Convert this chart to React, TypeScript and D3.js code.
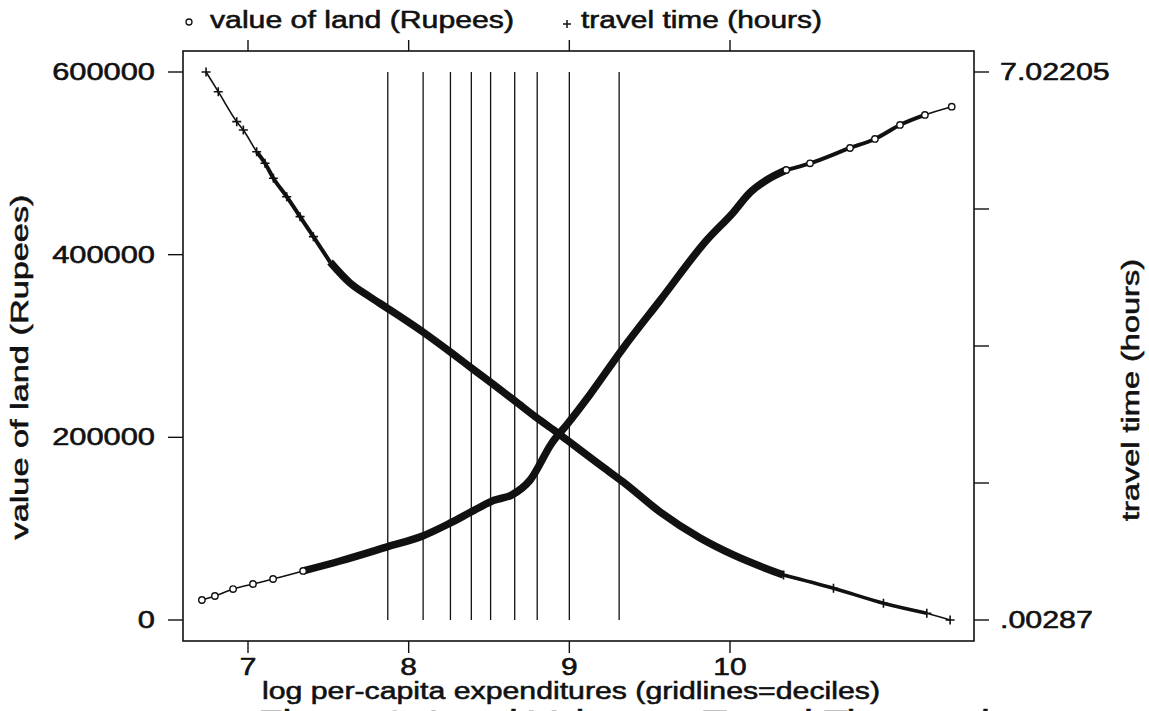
import React, { useEffect, useRef } from "react";
import * as d3 from "d3";

// ticks and labels
const xTicks = [7, 8, 9, 10];
const landTicks = [0, 200000, 400000, 600000];
const travelTicks = [0.00287, 1.757665, 3.51246, 5.267255, 7.02205];
const travelTickLabels = [".00287", "", "", "", "7.02205"];
const deciles = [7.87, 8.09, 8.26, 8.39, 8.51, 8.66, 8.8, 9.0, 9.31];

// value of land (Rupees)
const landX = [
  6.713, 6.794, 6.907, 7.031, 7.156, 7.343, 7.573, 7.87, 8.087, 8.257, 8.407,
  8.531, 8.643, 8.755, 8.892, 8.985, 9.129, 9.328, 9.565, 9.856, 10.019,
  10.125, 10.231, 10.35, 10.498, 10.747, 10.902, 11.058, 11.213, 11.38,
];
const landY = [
  21900, 26300, 33900, 39400, 44900, 53700, 64600, 80300, 92000, 106000,
  120000, 131000, 137000, 153000, 194000, 214000, 247000, 296000, 350000,
  416000, 446000, 468000, 482000, 492700, 500000, 516800, 526700, 542000,
  553000, 562000,
];

// travel time (hours)
const travelX = [
  6.739, 6.815, 6.93, 6.971, 7.054, 7.106, 7.158, 7.241, 7.324, 7.407, 7.511,
  7.635, 7.76, 7.866, 8.089, 8.276, 8.407, 8.532, 8.662, 8.799, 8.911, 8.986,
  9.192, 9.335, 9.565, 9.814, 10.021, 10.333, 10.644, 10.955, 11.225, 11.37,
];
const travelT = [
  7.022, 6.77, 6.386, 6.279, 6.001, 5.853, 5.661, 5.425, 5.169, 4.913, 4.588,
  4.319, 4.14, 3.999, 3.692, 3.41, 3.205, 3.013, 2.808, 2.59, 2.424, 2.308,
  1.988, 1.77, 1.386, 1.053, 0.836, 0.579, 0.409, 0.217, 0.089, 0.00287,
];

const W = 1149;
const H = 711;
const frame = { left: 183, right: 974, top: 51, bottom: 641 };
const font = "'Liberation Sans', Arial, Helvetica, sans-serif";

export default function App() {
  const ref = useRef<SVGSVGElement>(null);

  const x = d3.scaleLinear().domain([7, 10]).range([248, 730]);
  const yLand = d3.scaleLinear().domain([0, 600000]).range([620, 72]);
  const yTravel = d3.scaleLinear().domain([0.00287, 7.02205]).range([620, 72]);

  const land = landX.map((v, i) => ({ x: v, y: landY[i] }));
  const travel = travelX.map((v, i) => ({ x: v, y: travelT[i] }));

  const landLine = d3
    .line<{ x: number; y: number }>()
    .x((d) => x(d.x))
    .y((d) => yLand(d.y))
    .curve(d3.curveMonotoneX);
  const travelLine = d3
    .line<{ x: number; y: number }>()
    .x((d) => x(d.x))
    .y((d) => yTravel(d.y))
    .curve(d3.curveMonotoneX);

  const between = (arr: { x: number; y: number }[], a: number, b: number) =>
    arr.filter((d) => d.x >= a && d.x <= b);

  // stretch text horizontally like the wide font in the scan
  useEffect(() => {
    if (!ref.current) return;
    d3.select(ref.current)
      .selectAll<SVGTextElement, unknown>("text.wide")
      .each(function () {
        const el = d3.select(this);
        const len = el.attr("data-len");
        const sx = +(el.attr("data-sx") || 1.3);
        const w = len ? +len : this.getComputedTextLength() * sx;
        el.attr("textLength", w).attr("lengthAdjust", "spacingAndGlyphs");
      });
  }, []);

  return (
    <svg
      ref={ref}
      width={W}
      height={H}
      style={{ position: "fixed", left: 0, top: 0, background: "#fff" }}
      fontFamily={font}
    >
      <rect width={W} height={H} fill="#fff" />

      <g fill="#111" stroke="#111" strokeWidth={0.55}>
        {/* legend */}
        <text className="wide" data-len={304} x={210} y={28} fontSize={23}>
          value of land (Rupees)
        </text>
        <text className="wide" x={581} y={28} fontSize={23}>
          travel time (hours)
        </text>

        {/* x tick labels */}
        {xTicks.map((t) => (
          <text key={t} className="wide" x={x(t)} y={675} fontSize={23} textAnchor="middle">
            {t}
          </text>
        ))}

        {/* left tick labels */}
        {landTicks.map((t) => (
          <text key={t} className="wide" data-sx={1.34} x={155} y={yLand(t) + 8} fontSize={23} textAnchor="end">
            {t}
          </text>
        ))}

        {/* right tick labels */}
        {travelTicks.map((t, i) =>
          travelTickLabels[i] ? (
            <text key={t} className="wide" data-sx={1.32} x={1000} y={yTravel(t) + 8} fontSize={23}>
              {travelTickLabels[i]}
            </text>
          ) : null
        )}

        {/* axis titles */}
        <text
          className="wide"
          data-len={345}
          transform={`translate(28,367) rotate(-90)`}
          fontSize={23}
          textAnchor="middle"
        >
          value of land (Rupees)
        </text>
        <text
          className="wide"
          data-len={262}
          transform={`translate(1139,390) rotate(-90)`}
          fontSize={23}
          textAnchor="middle"
        >
          travel time (hours)
        </text>
        <text className="wide" data-len={618} x={571} y={699} fontSize={23} textAnchor="middle">
          log per-capita expenditures (gridlines=deciles)
        </text>

        {/* caption, cut off by the page edge */}
        <text className="wide" data-len={732} x={258} y={731} fontSize={30}>
          Figure 3: Land Value vs. Travel Time and
        </text>
      </g>

      {/* legend keys */}
      <circle cx={189} cy={22} r={3} fill="#fff" stroke="#111" strokeWidth={1.3} />
      <path d="M563,24H571M567,20V28" stroke="#111" strokeWidth={1.5} />

      {/* frame */}
      <rect
        x={frame.left}
        y={frame.top}
        width={frame.right - frame.left}
        height={frame.bottom - frame.top}
        fill="none"
        stroke="#111"
        strokeWidth={1.6}
      />

      {/* x ticks, top and bottom */}
      {xTicks.map((t) => (
        <g key={t}>
          <line x1={x(t)} x2={x(t)} y1={frame.top} y2={frame.top - 11} stroke="#111" strokeWidth={1.4} />
          <line x1={x(t)} x2={x(t)} y1={frame.bottom} y2={frame.bottom + 12} stroke="#111" strokeWidth={1.4} />
        </g>
      ))}

      {/* left ticks */}
      {landTicks.map((t) => (
        <line key={t} x1={frame.left - 15} x2={frame.left} y1={yLand(t)} y2={yLand(t)} stroke="#111" strokeWidth={1.4} />
      ))}

      {/* right ticks */}
      {travelTicks.map((t) => (
        <line key={t} x1={frame.right} x2={frame.right + 15} y1={yTravel(t)} y2={yTravel(t)} stroke="#111" strokeWidth={1.4} />
      ))}

      {/* decile gridlines */}
      {deciles.map((d) => (
        <line
          key={d}
          x1={x(d)}
          x2={x(d)}
          y1={yLand(0)}
          y2={yLand(600000)}
          stroke="#111"
          strokeWidth={1.3}
        />
      ))}

      {/* value of land */}
      <path d={landLine(land) || ""} fill="none" stroke="#111" strokeWidth={1.6} />
      <path d={landLine(between(land, 7.3, 10.36)) || ""} fill="none" stroke="#111" strokeWidth={7.5} />
      <path d={landLine(between(land, 10.35, 11.22)) || ""} fill="none" stroke="#111" strokeWidth={4} />
      {land
        .filter((d) => d.x < 7.35 || d.x > 10.3)
        .map((d, i) => (
          <circle key={i} cx={x(d.x)} cy={yLand(d.y)} r={3.2} fill="#fff" stroke="#111" strokeWidth={1.4} />
        ))}

      {/* travel time */}
      <path d={travelLine(travel) || ""} fill="none" stroke="#111" strokeWidth={1.6} />
      <path d={travelLine(between(travel, 7.0, 7.52)) || ""} fill="none" stroke="#111" strokeWidth={4} />
      <path d={travelLine(between(travel, 7.5, 10.35)) || ""} fill="none" stroke="#111" strokeWidth={7.5} />
      <path d={travelLine(between(travel, 10.33, 11.23)) || ""} fill="none" stroke="#111" strokeWidth={3.5} />
      {travel
        .filter((d) => d.x < 7.45 || d.x > 10.3)
        .map((d, i) => {
          const cx = x(d.x);
          const cy = yTravel(d.y);
          return (
            <path
              key={i}
              d={`M${cx - 4.5},${cy}H${cx + 4.5}M${cx},${cy - 4.5}V${cy + 4.5}`}
              stroke="#111"
              strokeWidth={1.6}
            />
          );
        })}
    </svg>
  );
}
